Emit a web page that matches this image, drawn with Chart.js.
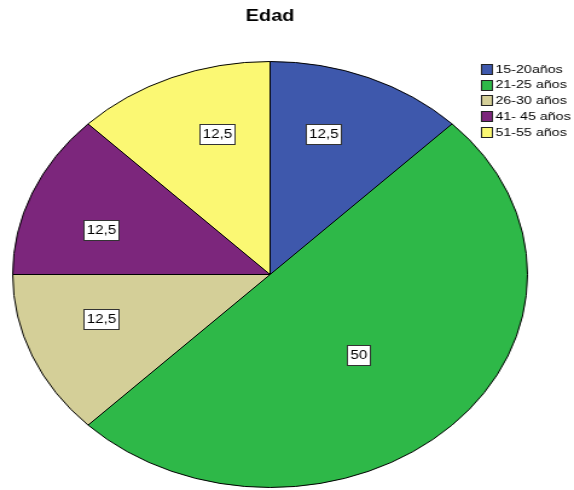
<!DOCTYPE html>
<html><head><meta charset="utf-8">
<script src="https://cdn.jsdelivr.net/npm/chart.js@4"></script>
<style>
html,body{margin:0;padding:0;background:#fff;overflow:hidden}
#wrap{position:absolute;left:0;top:0;width:475px;height:490px;transform:scaleX(1.2084);transform-origin:0 0}
</style></head><body>
<div id="wrap"><canvas id="c"></canvas></div>
<script>
const chartTitle = 'Edad';
const categories = ['15-20años', '21-25 años', '26-30 años', '41- 45 años', '51-55 años'];
const percentages = [12.5, 50, 12.5, 12.5, 12.5];
const sliceColors = ['#3e58ac', '#2eb848', '#d4cf98', '#7c267c', '#fbf873'];

const FONT = '"Liberation Sans", Arial, Helvetica, sans-serif';

const overlay = {
  id: 'overlay',
  afterDatasetsDraw(chart) {
    const ctx = chart.ctx;
    const meta = chart.getDatasetMeta(0);
    ctx.save();
    // value labels
    ctx.font = '12.5px ' + FONT;
    ctx.textAlign = 'center';
    ctx.textBaseline = 'middle';
    const quarter = Math.PI / 2;
    const pull = 5 * Math.PI / 180;
    meta.data.forEach((arc, i) => {
      const p = arc.getProps(['x', 'y', 'startAngle', 'endAngle', 'outerRadius'], true);
      let mid = (p.startAngle + p.endAngle) / 2;
      const span = p.endAngle - p.startAngle;
      let f = 0.51;
      if (span <= quarter + 1e-6) {
        f = 0.69;
        // pull small-slice labels slightly toward the nearest axis
        const nearest = Math.round(mid / quarter) * quarter;
        mid += Math.sign(nearest - mid) * pull;
      } else {
        mid += 2.5 * Math.PI / 180;
      }
      const lx = p.x + Math.cos(mid) * p.outerRadius * f;
      const ly = p.y + Math.sin(mid) * p.outerRadius * f;
      const txt = String(percentages[i]).replace('.', ',');
      const w = Math.round(ctx.measureText(txt).width + 5);
      const h = 20;
      const bx = Math.round(lx - w / 2) + 0.5, by = Math.round(ly - h / 2) + 0.5;
      ctx.fillStyle = '#ffffff';
      ctx.fillRect(bx, by, w, h);
      ctx.strokeStyle = '#333333';
      ctx.lineWidth = 1;
      ctx.strokeRect(bx, by, w, h);
      ctx.fillStyle = '#000000';
      ctx.fillText(txt, bx + w / 2, by + h / 2 + 0.5);
    });
    // legend
    const lx0 = chart.width - 77;
    const ly0 = 69;
    const step = 15.7;
    ctx.font = '11.8px ' + FONT;
    ctx.textAlign = 'left';
    categories.forEach((lab, i) => {
      const cy = ly0 + i * step;
      const bx = Math.round(lx0) + 0.5, by = Math.round(cy - 5) + 0.5;
      ctx.fillStyle = sliceColors[i];
      ctx.fillRect(bx, by, 9, 10);
      ctx.strokeStyle = '#222222';
      ctx.strokeRect(bx, by, 9, 10);
      ctx.fillStyle = '#000000';
      ctx.fillText(lab, lx0 + 12, cy + 0.5);
    });
    ctx.restore();
  }
};

new Chart(document.getElementById('c'), {
  type: 'pie',
  data: {
    labels: categories,
    datasets: [{
      data: percentages,
      backgroundColor: sliceColors,
      borderColor: '#000000',
      borderWidth: 1
    }]
  },
  options: {
    responsive: true,
    maintainAspectRatio: false,
    animation: false,
    events: [],
    layout: { padding: { left: 10, right: 38, top: 0, bottom: 2 } },
    plugins: {
      legend: { display: false },
      tooltip: { enabled: false },
      title: {
        display: true,
        text: chartTitle,
        color: '#000000',
        font: { family: FONT, size: 16.5, weight: 'bold', lineHeight: 1.2 },
        padding: { top: 7, bottom: 34.2 }
      }
    }
  },
  plugins: [overlay]
});
</script>
</body></html>
